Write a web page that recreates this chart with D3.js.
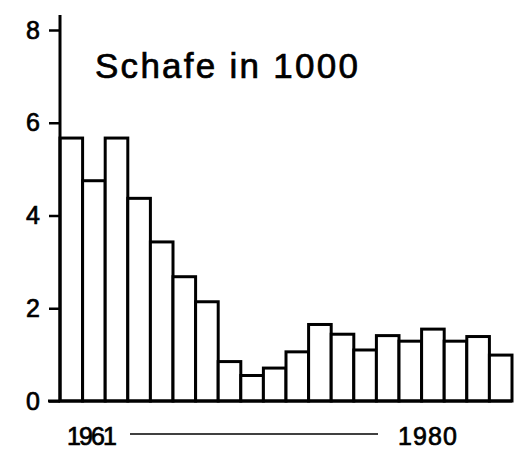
<!DOCTYPE html>
<html>
<head>
<meta charset="utf-8">
<script src="https://cdn.jsdelivr.net/npm/d3@7"></script>
<style>
  body { margin: 0; background: #fff; }
  text { font-family: "Liberation Sans", Arial, sans-serif; fill: #000; stroke: #000; stroke-width: 0.7px; }
</style>
</head>
<body>
<div id="canvas"></div>
<script>
// data: sheep numbers (in 1000), 1961 to 1980
var years = d3.range(1961, 1981);
var sheep = [5.67, 4.75, 5.67, 4.37, 3.43, 2.68, 2.14, 0.85, 0.55, 0.71,
             1.06, 1.65, 1.44, 1.10, 1.41, 1.29, 1.55, 1.29, 1.39, 0.99];
var yTicks = [0, 2, 4, 6, 8];
var title = 'Schafe in 1000';

var W = 526, H = 450;
var svg = d3.select('#canvas').append('svg')
    .attr('width', W)
    .attr('height', H);

var x = d3.scaleBand()
    .domain(years)
    .range([60, 512])
    .padding(0);
var y = d3.scaleLinear()
    .domain([0, 8])
    .range([401, 30]);

// bars
svg.selectAll('.bar')
    .data(sheep)
    .enter()
    .append('rect')
    .attr('class', 'bar')
    .attr('x', function(d, i){ return x(years[i]); })
    .attr('y', function(d){ return y(d); })
    .attr('width', x.bandwidth())
    .attr('height', function(d){ return y(0) - y(d); })
    .attr('fill', '#fff')
    .attr('stroke', '#000')
    .attr('stroke-width', 3);

// y axis
var axisY = d3.axisLeft(y)
    .tickValues(yTicks)
    .tickSize(11)
    .tickPadding(9)
    .tickFormat(d3.format('d'));
var gy = svg.append('g')
    .attr('transform', 'translate(60,0)')
    .call(axisY);
gy.select('.domain').remove();
gy.selectAll('.tick line').attr('stroke', '#000').attr('stroke-width', 2.5);
gy.selectAll('.tick text').attr('font-size', 25).attr('font-family', 'Liberation Sans, sans-serif');

svg.append('line')
    .attr('x1', 60).attr('x2', 60)
    .attr('y1', 15).attr('y2', y(0))
    .attr('stroke', '#000').attr('stroke-width', 3);

// baseline
svg.append('line')
    .attr('x1', 48).attr('x2', 512)
    .attr('y1', y(0)).attr('y2', y(0))
    .attr('stroke', '#000').attr('stroke-width', 3);

// title
svg.append('text')
    .attr('x', 95)
    .attr('y', 78)
    .attr('font-size', 35)
    .attr('textLength', 263)
    .text(title);

// year range
svg.append('text')
    .attr('x', 67).attr('y', 445)
    .attr('font-size', 25)
    .attr('textLength', 50)
    .text(years[0]);
svg.append('line')
    .attr('x1', 130).attr('x2', 378)
    .attr('y1', 434).attr('y2', 434)
    .attr('stroke', '#000').attr('stroke-width', 1.5);
svg.append('text')
    .attr('x', 398).attr('y', 445)
    .attr('font-size', 25)
    .attr('textLength', 59)
    .text(years[years.length - 1]);
</script>
</body>
</html>
